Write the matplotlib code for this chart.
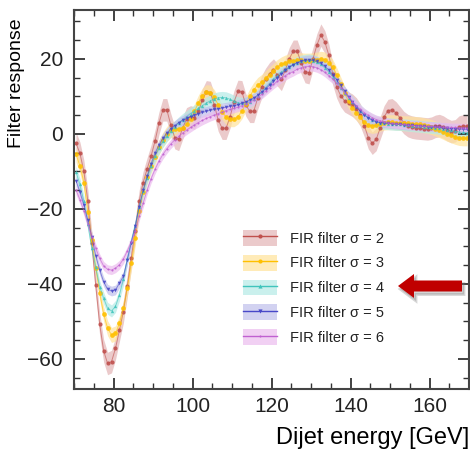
import numpy as np
import matplotlib
matplotlib.use("Agg")
import matplotlib.pyplot as plt
import matplotlib.patches as mpatches
from matplotlib.lines import Line2D
from matplotlib.ticker import MultipleLocator

plt.rcParams['font.family'] = ['Liberation Sans', 'DejaVu Sans']

# bin centres in GeV
energy = np.arange(70.5, 170.0, 1.0)

sigmas = [2, 3, 4, 5, 6]

resp_s2 = [
    -2.5, -5.2, -10.0, -17.9, -29.0, -40.3, -50.7, -57.8, -61.2, -60.7,
    -57.2, -52.3, -47.4, -40.5, -33.0, -25.8, -18.0, -13.0, -9.4, -6.0,
    -2.0, 2.8, 6.4, 6.4, 2.4, -1.0, -1.5, 1.5, 4.0, 4.5,
    4.2, 6.0, 9.0, 11.2, 11.0, 7.8, 3.7, 1.5, 1.5, 4.5,
    8.5, 11.3, 11.2, 7.7, 6.0, 6.0, 9.5, 12.5, 14.5, 16.0,
    17.0, 15.7, 14.5, 17.0, 20.0, 22.0, 22.0, 19.0, 16.6, 16.3,
    20.0, 23.7, 26.3, 24.5, 21.0, 16.0, 12.5, 10.2, 8.8, 8.2,
    7.6, 6.6, 5.0, 2.2, -1.0, -2.5, -1.5, 1.5, 4.5, 6.2,
    6.4, 5.6, 4.3, 3.0, 2.2, 1.8, 1.6, 1.5, 1.4, 1.3,
    1.5, 2.0, 2.2, 1.8, 1.1, 0.6, 0.8, 1.8, 2.1, 2.0]

resp_s3 = [
    -5.5, -8.5, -13.0, -20.9, -28.3, -35.7, -42.3, -48.0, -51.8, -53.6,
    -53.2, -50.5, -46.5, -41.1, -34.5, -27.8, -20.5, -15.5, -11.5, -8.5,
    -6.2, -3.6, -1.6, 0.0, 1.0, 1.4, 1.3, 1.6, 2.5, 4.0,
    6.0, 8.3, 10.2, 11.1, 11.0, 9.8, 7.8, 5.8, 4.5, 3.9,
    3.9, 4.6, 6.0, 8.0, 10.0, 11.7, 13.0, 13.8, 14.8, 15.8,
    16.8, 17.8, 18.5, 19.0, 19.3, 19.5, 19.6, 19.6, 19.5, 19.5,
    19.6, 19.8, 20.0, 19.8, 19.0, 17.8, 15.7, 13.2, 10.8, 8.7,
    7.0, 5.6, 4.4, 3.2, 2.4, 2.1, 2.3, 2.7, 3.0, 3.1,
    3.1, 3.0, 2.9, 2.8, 2.8, 2.7, 2.6, 2.5, 2.3, 2.1,
    1.8, 1.4, 1.0, 0.5, 0.0, -0.4, -0.8, -1.1, -1.2, -1.2]

resp_s4 = [
    -10.2, -13.5, -18.0, -24.0, -30.5, -35.6, -40.7, -43.8, -46.5, -47.2,
    -46.0, -42.9, -38.8, -33.2, -28.7, -24.5, -19.5, -15.3, -11.7, -8.6,
    -6.0, -3.8, -2.0, -0.5, 0.8, 1.9, 2.9, 3.8, 4.6, 5.4,
    6.1, 6.8, 7.5, 8.2, 8.8, 9.3, 9.6, 9.7, 9.6, 9.2,
    8.7, 8.3, 8.1, 8.2, 8.6, 9.3, 10.2, 11.2, 12.3, 13.4,
    14.5, 15.5, 16.4, 17.2, 17.9, 18.5, 19.0, 19.4, 19.6, 19.7,
    19.5, 19.1, 18.5, 17.6, 16.5, 15.2, 13.8, 12.3, 10.9, 9.6,
    8.4, 7.3, 6.2, 5.2, 4.4, 3.8, 3.3, 3.0, 2.8, 2.7,
    2.6, 2.5, 2.5, 2.4, 2.3, 2.2, 2.1, 2.0, 1.9, 1.8,
    1.7, 1.6, 1.5, 1.3, 1.1, 0.9, 0.7, 0.5, 0.4, 0.3]

resp_s5 = [
    -12.5, -15.5, -19.0, -23.0, -27.5, -32.5, -36.3, -39.4, -41.4, -41.9,
    -41.6, -39.8, -38.0, -33.6, -29.0, -24.5, -19.5, -15.0, -11.3, -8.0,
    -5.2, -3.0, -1.2, 0.2, 1.3, 2.2, 3.0, 3.6, 4.1, 4.6,
    5.0, 5.4, 5.7, 6.0, 6.3, 6.5, 6.7, 6.9, 7.1, 7.3,
    7.5, 7.8, 8.1, 8.5, 9.0, 9.6, 10.3, 11.1, 12.0, 13.0,
    14.0, 15.0, 16.0, 16.9, 17.7, 18.4, 18.9, 19.3, 19.6, 19.7,
    19.6, 19.3, 18.8, 18.0, 17.0, 15.8, 14.4, 12.9, 11.4, 9.9,
    8.5, 7.2, 6.0, 5.0, 4.2, 3.6, 3.2, 3.0, 2.9, 2.8,
    2.7, 2.6, 2.5, 2.4, 2.3, 2.3, 2.2, 2.1, 2.0, 1.9,
    1.9, 1.8, 1.7, 1.6, 1.5, 1.4, 1.3, 1.3, 1.2, 1.2]

resp_s6 = [
    -15.0, -17.5, -20.5, -24.0, -27.5, -30.5, -33.2, -35.2, -36.1, -36.3,
    -35.8, -34.9, -33.4, -31.2, -28.8, -26.0, -22.0, -18.5, -15.0, -12.0,
    -9.5, -7.3, -5.5, -4.0, -2.7, -1.6, -0.7, 0.2, 1.0, 1.7,
    2.4, 3.0, 3.6, 4.1, 4.6, 5.0, 5.4, 5.8, 6.2, 6.5,
    6.8, 7.1, 7.5, 7.9, 8.4, 9.0, 9.7, 10.5, 11.4, 12.3,
    13.2, 14.0, 14.8, 15.5, 16.1, 16.6, 17.2, 17.6, 17.9, 18.0,
    17.9, 17.6, 17.1, 16.4, 15.5, 14.6, 13.5, 12.3, 11.0, 9.8,
    8.6, 7.5, 6.5, 5.6, 4.9, 4.3, 3.8, 3.5, 3.2, 3.0,
    2.8, 2.7, 2.6, 2.5, 2.4, 2.3, 2.2, 2.2, 2.1, 2.0,
    2.0, 1.9, 1.9, 1.8, 1.8, 1.7, 1.7, 1.6, 1.6, 1.5]

# band half-widths
uncert = [3.0, 2.0, 1.6, 1.3, 1.2]

responses = [resp_s2, resp_s3, resp_s4, resp_s5, resp_s6]
line_colors = ['#c0504d', '#ffc000', '#40c4bc', '#4848c8', '#c060d0']
band_colors = ['#e3b4b5', '#ffe39a', '#b4ebe6', '#c0c0ec', '#ecbcee']
markers = ['o', 'o', '^', 'v', '.']
msizes = [3.0, 3.4, 2.4, 2.6, 3.0]

fig = plt.figure(figsize=(4.70, 4.49), dpi=100)
ax = fig.add_axes([74 / 470, 60 / 449, 395 / 470, 379 / 449])

handles = []
for i, s in enumerate(sigmas):
    y = np.array(responses[i])
    ax.fill_between(energy, y - uncert[i], y + uncert[i], color=band_colors[i],
                    alpha=0.7, lw=0)
    ax.plot(energy, y, color=line_colors[i], lw=0.7, alpha=0.6)
    ax.plot(energy, y, ls='none', marker=markers[i], ms=msizes[i],
            color=line_colors[i], mec='none', alpha=0.9)
    band = mpatches.Patch(color=band_colors[i], alpha=0.7, lw=0)
    ln = Line2D([], [], color=line_colors[i], lw=1.0, marker=markers[i],
                ms=3, mec='none')
    handles.append((band, ln))

labels = [f"FIR filter σ = {s}" for s in sigmas]
leg = ax.legend(handles, labels, loc='upper left', bbox_to_anchor=(0.395, 0.455),
                frameon=False, fontsize=10.5, handlelength=2.3, handleheight=1.3,
                labelspacing=0.62, handletextpad=0.9)
for t in leg.get_texts():
    t.set_color('#222222')

ax.set_xlim(70, 170)
ax.set_ylim(-68, 33)
ax.xaxis.set_major_locator(MultipleLocator(20))
ax.xaxis.set_minor_locator(MultipleLocator(5))
ax.yaxis.set_major_locator(MultipleLocator(20))
ax.yaxis.set_minor_locator(MultipleLocator(5))
ax.tick_params(which='both', direction='in', top=True, right=True,
               labelsize=15, colors='#333333', labelcolor='#222222')
ax.tick_params(which='major', length=8, width=1.3)
ax.tick_params(which='minor', length=4, width=1.0)
ax.tick_params(axis='y', which='major', pad=8)
ax.tick_params(axis='x', which='major', pad=6)
for sp in ax.spines.values():
    sp.set_linewidth(1.5)
    sp.set_color('#444444')

ax.set_xlabel('Dijet energy [GeV]', fontsize=17, loc='right', labelpad=8)
ax.set_ylabel('Filter response', fontsize=14, loc='top')
ax.yaxis.set_label_coords(-0.125, 0.978)

# red arrow pointing at the sigma = 4 entry (with soft shadow)
shadow = mpatches.FancyArrow(4.64, 1.60, -0.64, 0, width=0.11, head_width=0.24,
                             head_length=0.16, length_includes_head=True,
                             transform=fig.dpi_scale_trans, color='#777777',
                             alpha=0.3, lw=2)
arrow = mpatches.FancyArrow(4.62, 1.63, -0.64, 0, width=0.11, head_width=0.24,
                            head_length=0.16, length_includes_head=True,
                            transform=fig.dpi_scale_trans, color='#c00000', lw=0)
fig.add_artist(shadow)
fig.add_artist(arrow)

fig.savefig('out.png', dpi=100)
